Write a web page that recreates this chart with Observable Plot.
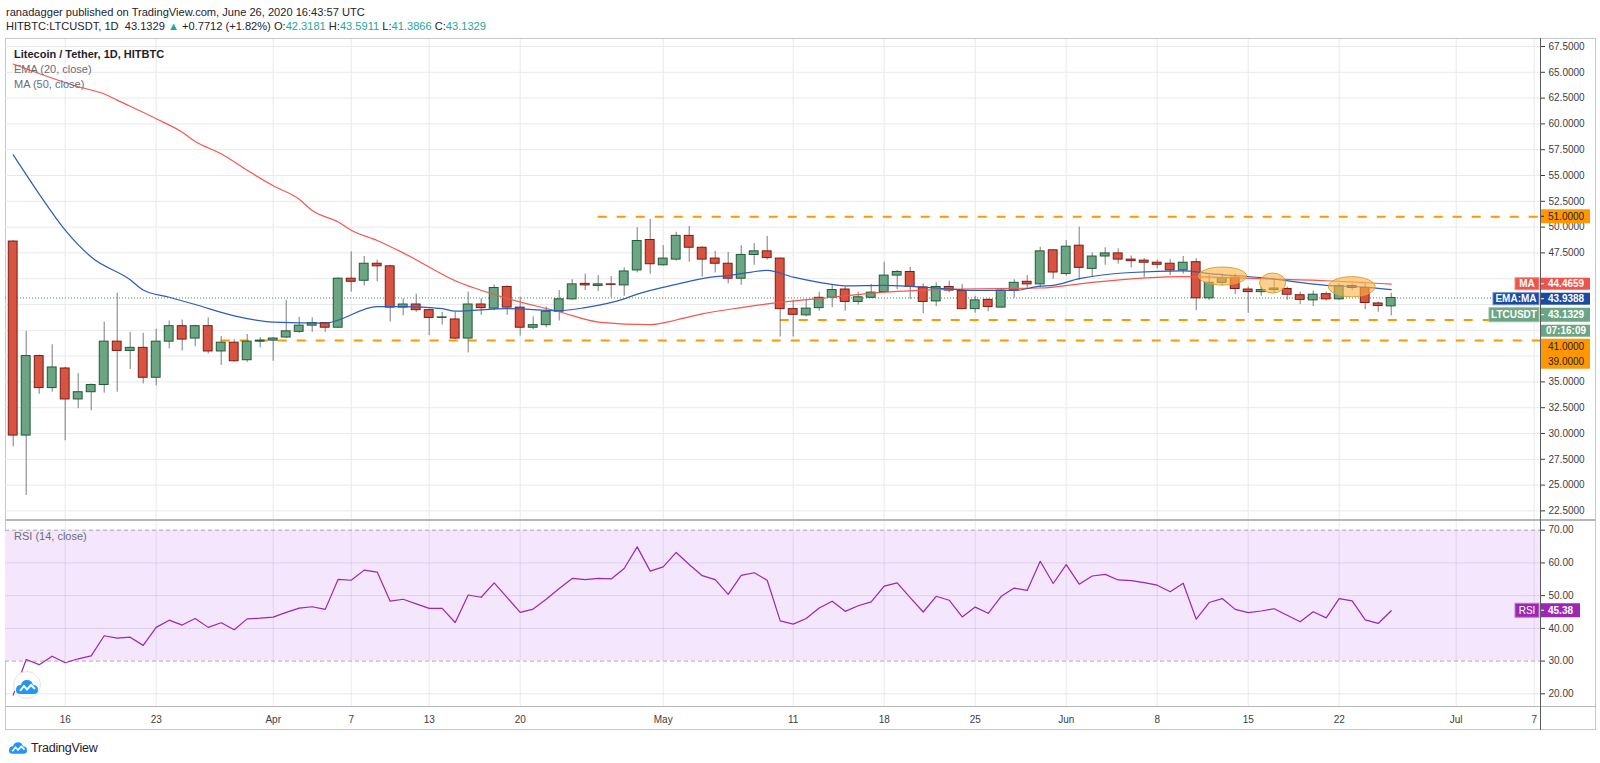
<!DOCTYPE html>
<html>
<head>
<meta charset="utf-8">
<script src="https://cdn.jsdelivr.net/npm/d3@7"></script>
<script src="https://cdn.jsdelivr.net/npm/@observablehq/plot@0.6"></script>
<style>
  html, body { margin: 0; padding: 0; background: #fff; }
  body { width: 1600px; height: 763px; overflow: hidden; font-family: "Liberation Sans", Arial, sans-serif; }
  #wrap { position: relative; width: 1600px; height: 763px; }
  .abs { position: absolute; }
  .hdr { position: absolute; left: 6px; font-size: 11.1px; color: #1e222d; white-space: nowrap; line-height: 14px; }
  .t { color: #26a69a; }
  .leg { position: absolute; left: 14px; font-size: 11px; line-height: 15px; white-space: nowrap; }
  svg.plotsvg { position: absolute; left: 0; }
</style>
</head>
<body>
<div id="wrap"></div>
<script>
// ---------------- DATA ----------------
const startDate = "2020-03-12";
const opens = [
  48.6, 29.8, 37.5, 34.4, 36.3, 33.3, 34.0, 34.7, 38.9, 38.0,
  38.3, 35.4, 38.9, 40.4, 39.2, 40.4, 37.95, 38.8, 37.1, 38.9,
  39.0, 39.3, 39.85, 40.45, 40.7, 40.25, 45.0, 44.8, 46.45, 46.2,
  42.2, 42.5, 41.95, 41.2, 41.05, 39.2, 42.5, 42.1, 44.2, 42.2,
  40.25, 40.5, 41.8, 43.0, 44.5, 44.3, 44.45, 44.35, 45.8, 48.75,
  46.3, 46.85, 49.15, 48.0, 46.95, 46.45, 45.0, 47.3, 47.65, 46.95,
  42.05, 41.45, 42.15, 43.15, 43.95, 42.75, 43.15, 43.7, 45.3, 45.65,
  44.15, 42.8, 44.2, 43.8, 42.05, 42.95, 42.2, 43.85, 44.7, 44.45,
  47.75, 45.45, 48.2, 45.95, 47.15, 47.45, 46.85, 46.75, 46.55, 46.45,
  45.8, 46.6, 43.1, 44.6, 45.1, 43.95, 43.7, 43.9, 44.0, 43.4,
  42.9, 43.5, 43.0, 44.3, 44.1, 42.6, 42.3181
];
const highs = [
  48.7, 39.9, 37.6, 38.6, 36.4, 35.8, 34.8, 40.8, 43.6, 39.8,
  39.7, 40.1, 40.9, 41.0, 40.5, 41.2, 39.4, 39.1, 39.6, 39.3,
  39.3, 42.9, 41.25, 41.2, 40.75, 45.1, 47.6, 47.15, 46.8, 46.3,
  43.05, 43.5, 42.05, 41.75, 41.75, 43.7, 43.05, 44.4, 44.3, 43.2,
  41.3, 42.25, 43.85, 44.9, 45.45, 45.3, 45.2, 46.05, 49.95, 50.75,
  48.2, 49.5, 50.05, 48.1, 47.65, 47.55, 48.2, 48.4, 49.1, 47.0,
  42.9, 42.9, 43.7, 44.4, 44.2, 43.7, 44.45, 46.6, 45.8, 46.1,
  44.5, 44.6, 44.75, 44.45, 43.3, 43.05, 43.95, 44.9, 45.3, 48.05,
  47.8, 48.7, 50.0, 47.5, 48.0, 47.9, 47.2, 46.95, 46.8, 46.85,
  47.15, 46.95, 45.3, 45.45, 45.45, 44.2, 44.2, 45.0, 44.2, 43.7,
  43.8, 43.7, 44.5, 44.5, 44.55, 42.75, 43.5911
];
const lows = [
  28.7, 24.0, 33.8, 34.0, 29.3, 32.4, 32.2, 33.9, 34.0, 36.2,
  34.8, 34.6, 38.2, 38.0, 38.4, 37.7, 36.6, 36.9, 36.9, 38.3,
  37.0, 39.2, 39.7, 39.8, 39.8, 40.2, 43.7, 44.3, 44.7, 40.8,
  41.4, 41.75, 39.5, 40.5, 39.1, 37.8, 41.45, 41.9, 41.45, 39.45,
  40.05, 40.25, 40.9, 42.9, 43.85, 43.75, 43.15, 43.3, 45.55, 45.45,
  46.2, 46.7, 46.6, 45.15, 45.55, 44.5, 44.35, 46.3, 46.8, 39.35,
  39.35, 41.3, 41.85, 42.2, 41.85, 42.45, 43.1, 43.6, 43.95, 43.0,
  41.6, 42.3, 43.65, 42.0, 41.65, 41.8, 42.15, 43.1, 44.0, 44.1,
  44.95, 45.25, 44.85, 45.2, 46.3, 46.4, 46.05, 45.1, 45.95, 45.3,
  45.45, 41.9, 42.9, 44.3, 43.45, 41.65, 43.3, 43.55, 42.9, 42.5,
  42.3, 42.85, 42.9, 43.85, 42.0, 41.75, 41.3866
];
const closes = [
  29.8, 37.5, 34.4, 36.4, 33.3, 34.0, 34.7, 38.9, 38.0, 38.3,
  35.4, 38.9, 40.4, 39.1, 40.4, 37.95, 38.8, 37.0, 38.9, 39.0,
  39.2, 39.9, 40.45, 40.7, 40.25, 45.0, 44.7, 46.45, 46.2, 42.2,
  42.5, 41.95, 41.2, 41.25, 39.2, 42.5, 42.15, 44.1, 42.2, 40.25,
  40.5, 41.8, 43.0, 44.45, 44.35, 44.45, 44.4, 45.7, 48.65, 46.4,
  46.95, 49.15, 48.0, 46.85, 46.45, 45.0, 47.3, 47.65, 47.0, 42.05,
  41.5, 42.1, 43.15, 43.9, 42.75, 43.2, 43.65, 45.3, 45.65, 44.2,
  42.75, 44.2, 43.85, 42.05, 42.9, 42.25, 43.85, 44.6, 44.45, 47.65,
  45.6, 48.1, 46.05, 47.15, 47.45, 46.85, 46.7, 46.55, 46.35, 45.8,
  46.55, 43.1, 44.6, 45.05, 44.0, 43.7, 43.9, 44.05, 43.45, 42.95,
  43.45, 43.0, 44.3, 44.1, 42.65, 42.36, 43.1329
];
const rsiValues = [
  19.6, 30.5, 28.9, 31.5, 29.5, 30.7, 31.6, 37.75, 37.0, 37.3,
  34.8, 40.3, 42.5, 41.0, 43.0, 40.3, 41.7, 39.6, 42.9, 43.1,
  43.45, 44.9, 46.2, 46.6, 45.8, 55.0, 54.7, 57.8, 57.2, 48.3,
  48.9, 47.5, 46.1, 46.1, 41.8, 50.2, 49.5, 53.9, 49.4, 44.9,
  45.9, 48.9, 52.2, 55.25, 54.9, 55.25, 55.1, 58.3, 64.9, 57.5,
  58.8, 63.2, 59.5, 56.1, 54.9, 50.4, 56.2, 57.0, 54.7, 42.3,
  41.3, 43.0, 46.2, 48.3, 45.2, 46.9, 48.1, 52.9, 53.9, 49.4,
  45.0, 49.8, 48.6, 43.5, 46.5, 44.6, 49.8, 52.3, 51.6, 60.5,
  53.7, 59.5, 53.5, 56.0, 56.5, 54.8, 54.6, 54.0, 53.2, 51.2,
  53.8, 42.8, 47.9, 49.1, 45.8, 44.8, 45.3, 46.0, 44.0, 42.0,
  45.1, 43.2, 49.1, 48.4, 42.6, 41.5, 45.38
];
const maDates = ["2020-03-12","2020-03-17","2020-03-19","2020-03-20","2020-03-23","2020-03-25","2020-03-26","2020-03-28","2020-03-30","2020-04-01","2020-04-03","2020-04-04","2020-04-06","2020-04-07","2020-04-09","2020-04-11","2020-04-15","2020-04-19","2020-04-23","2020-04-26","2020-04-30","2020-05-02","2020-05-04","2020-05-07","2020-05-10","2020-05-14","2020-05-18","2020-05-24","2020-05-30","2020-06-03","2020-06-10","2020-06-16","2020-06-21","2020-06-26"];
const maValues = [65.8,63.6,62.9,62.3,60.5,59.2,58.3,57.1,55.5,54.0,52.7,51.6,50.5,49.7,48.7,47.5,44.8,43.1,41.8,40.8,40.55,41.0,41.6,42.2,42.7,43.2,43.7,44.0,44.1,44.65,45.2,45.0,44.8,44.4659];
const emaDates = ["2020-03-12","2020-03-14","2020-03-16","2020-03-18","2020-03-21","2020-03-22","2020-03-24","2020-03-26","2020-03-29","2020-04-01","2020-04-05","2020-04-09","2020-04-11","2020-04-14","2020-04-15","2020-04-19","2020-04-23","2020-04-25","2020-04-28","2020-04-29","2020-05-02","2020-05-05","2020-05-06","2020-05-09","2020-05-11","2020-05-13","2020-05-15","2020-05-18","2020-05-22","2020-05-25","2020-05-28","2020-05-30","2020-05-31","2020-06-02","2020-06-06","2020-06-10","2020-06-12","2020-06-16","2020-06-21","2020-06-24","2020-06-26"];
const emaValues = [57.0,53.2,49.7,47.1,44.9,43.9,43.2,42.5,41.4,40.8,40.7,42.3,42.3,42.1,41.85,42.1,41.9,42.2,43.05,43.5,44.45,45.2,45.3,45.8,45.15,44.65,44.3,44.35,44.1,43.86,43.86,44.28,44.35,45.0,45.6,45.75,45.5,45.1,44.35,44.18,43.9388];
// horizontal support / resistance levels
const levelPrices = [51, 41, 39];
const levelStarts = ["2020-04-26", "2020-05-10", "2020-03-28"];
// highlighted ellipses (date span, price span)
const ellipseFrom = ["2020-06-11T05:00Z", "2020-06-15T22:00Z", "2020-06-21T05:00Z"];
const ellipseTo   = ["2020-06-14T22:00Z", "2020-06-17T22:00Z", "2020-06-24T19:00Z"];
const ellipseLo   = [44.34, 43.57, 43.2];
const ellipseHi   = [46.08, 45.5, 45.15];
// axis ticks
const priceTicks = [22.5,25,27.5,30,32.5,35,37.5,40,42.5,45,47.5,50,52.5,55,57.5,60,62.5,65,67.5];
const priceLabelTicks = [22.5,25,27.5,30,32.5,35,47.5,50,52.5,55,57.5,60,62.5,65,67.5];
const rsiTicks = [20,30,40,50,60,70];
const timeTickDates = ["2020-03-16","2020-03-23","2020-04-01","2020-04-07","2020-04-13","2020-04-20","2020-05-01","2020-05-11","2020-05-18","2020-05-25","2020-06-01","2020-06-08","2020-06-15","2020-06-22","2020-07-01","2020-07-07"];
const timeTickLabels = ["16","23","Apr","7","13","20","May","11","18","25","Jun","8","15","22","Jul","7"];
const countdown = "07:16:09";
const prevClose = 42.3617;

// ---------------- BUILD ----------------
const FONT = '"Liberation Sans", Arial, sans-serif';
const dayMs = 86400000;
const t0 = Date.parse(startDate + "T00:00:00Z");
const dates = opens.map((_, i) => new Date(t0 + i * dayMs));
const candles = dates.map((date, i) => ({date, open: opens[i], high: highs[i], low: lows[i], close: closes[i]}));
const rsiData = dates.map((date, i) => ({date, rsi: rsiValues[i]}));
const maData = maDates.map((d, i) => ({date: new Date(d + "T00:00:00Z"), v: maValues[i]}));
const emaData = emaDates.map((d, i) => ({date: new Date(d + "T00:00:00Z"), v: emaValues[i]}));
const levels = levelPrices.map((p, i) => ({price: p, from: new Date(levelStarts[i] + "T00:00:00Z")}));
const ellipses = ellipseFrom.map((f, i) => ({from: new Date(f), to: new Date(ellipseTo[i]), lo: ellipseLo[i], hi: ellipseHi[i]}));
const tickDates = timeTickDates.map(d => new Date(d + "T00:00:00Z"));
const tickLabelMap = new Map(tickDates.map((d, i) => [+d, timeTickLabels[i]]));

// layout
const X_LEFT = 5, X_AXIS = 1540, FIRST_X = 12.7, PX_DAY = 13;
const xDomain = [new Date(t0 - (FIRST_X - X_LEFT) / PX_DAY * dayMs), new Date(t0 + (X_AXIS - FIRST_X) / PX_DAY * dayMs)];
const P_TOP = 39, P_BOT = 520, Y675 = 46, PX_UNIT = 10.32;
const yDomain = [67.5 - (P_BOT - Y675) / PX_UNIT, 67.5 + (Y675 - P_TOP) / PX_UNIT];
const R_TOP = 520, R_BOT = 706, Y70 = 529.7, PX_RSI = 3.272;
const rDomain = [70 - (R_BOT - Y70) / PX_RSI, 70 + (Y70 - R_TOP) / PX_RSI];

const UP_FILL = "#6ba583", UP_STROKE = "#1f5a36", DN_FILL = "#d75442", DN_STROKE = "#7d1b12", WICK = "#7c7c7c";
const GRID = "#e9e9ec";
const last = candles.length - 1;

const wrap = document.getElementById("wrap");

// header
const h1 = document.createElement("div");
h1.className = "hdr"; h1.style.top = "5px";
h1.textContent = "ranadagger published on TradingView.com, June 26, 2020 16:43:57 UTC";
wrap.appendChild(h1);
const chg = closes[last] - prevClose;
const h2 = document.createElement("div");
h2.className = "hdr"; h2.style.top = "19px";
h2.innerHTML = `HITBTC:LTCUSDT, 1D&nbsp; ${closes[last].toFixed(4)} <span class="t">▲</span> +${chg.toFixed(4)} (+${(chg / prevClose * 100).toFixed(2)}%) O:<span class="t">${opens[last].toFixed(4)}</span> H:<span class="t">${highs[last].toFixed(4)}</span> L:<span class="t">${lows[last].toFixed(4)}</span> C:<span class="t">${closes[last].toFixed(4)}</span>`;
wrap.appendChild(h2);

function div(style) {
  const d = document.createElement("div");
  d.className = "abs";
  Object.assign(d.style, style);
  wrap.appendChild(d);
  return d;
}
// frame
div({left: "5px", top: "38px", width: "1591px", height: "692px", border: "1px solid #c5c7cc", boxSizing: "border-box"});

// price pane
const pricePlot = Plot.plot({
  width: 1600, height: P_BOT - P_TOP,
  marginLeft: X_LEFT, marginRight: 1600 - X_AXIS, marginTop: 0, marginBottom: 0,
  style: {background: "transparent", fontFamily: FONT, fontSize: "10px", color: "#3d3d3d", overflow: "visible"},
  x: {type: "utc", domain: xDomain, axis: null},
  y: {domain: yDomain, axis: "right", ticks: priceLabelTicks, tickFormat: d => d.toFixed(4), tickSize: 4, tickPadding: 4, label: null},
  marks: [
    Plot.ruleY(priceTicks, {stroke: GRID, strokeWidth: 1}),
    Plot.ruleX(tickDates, {stroke: GRID, strokeWidth: 1}),
    Plot.ruleY(levels, {y: "price", x1: "from", x2: () => xDomain[1], stroke: "#ff9800", strokeWidth: 2, strokeDasharray: "9,10"}),
    Plot.ruleY([closes[last]], {stroke: "#3f8f62", strokeWidth: 1, strokeDasharray: "1,2"}),
    Plot.ruleX(candles, {x: "date", y1: "low", y2: "high", stroke: WICK, strokeWidth: 1}),
    Plot.rect(candles, {
      x1: d => new Date(+d.date - 0.34 * dayMs), x2: d => new Date(+d.date + 0.34 * dayMs),
      y1: "open", y2: "close",
      fill: d => d.close >= d.open ? UP_FILL : DN_FILL,
      stroke: d => d.close >= d.open ? UP_STROKE : DN_STROKE, strokeWidth: 1
    }),
    Plot.line(maData, {x: "date", y: "v", stroke: "#f4574f", strokeWidth: 1.2, curve: "monotone-x"}),
    Plot.line(emaData, {x: "date", y: "v", stroke: "#2c5db8", strokeWidth: 1.2, curve: "monotone-x"}),
    Plot.rect(ellipses, {x1: "from", x2: "to", y1: "lo", y2: "hi", fill: "#ffb240", fillOpacity: 0.6, stroke: "#d9a13a", strokeWidth: 1, rx: 200, ry: 200})
  ]
});
pricePlot.classList.add("plotsvg");
pricePlot.style.top = P_TOP + "px";
wrap.appendChild(pricePlot);

// RSI pane
const rsiPlot = Plot.plot({
  width: 1600, height: 730 - R_TOP,
  marginLeft: X_LEFT, marginRight: 1600 - X_AXIS, marginTop: 0, marginBottom: 730 - R_BOT,
  style: {background: "transparent", fontFamily: FONT, fontSize: "10px", color: "#3d3d3d", overflow: "visible"},
  x: {type: "utc", domain: xDomain, ticks: tickDates, tickFormat: d => tickLabelMap.get(+d) || "", tickSize: 0, tickPadding: 9, label: null},
  y: {domain: rDomain, axis: "right", ticks: rsiTicks, tickFormat: d => d.toFixed(2), tickSize: 4, tickPadding: 4, label: null},
  marks: [
    Plot.rect([{lo: 30, hi: 70}], {x1: () => xDomain[0], x2: () => xDomain[1], y1: "lo", y2: "hi", fill: "#f3e6fd"}),
    Plot.ruleY([20, 40, 50, 60], {stroke: "rgba(120,100,140,0.16)", strokeWidth: 1}),
    Plot.ruleX(tickDates, {stroke: "rgba(120,100,140,0.14)", strokeWidth: 1}),
    Plot.ruleY([30, 70], {stroke: "#a9a9ad", strokeWidth: 1, strokeDasharray: "4,3"}),
    Plot.line(rsiData, {x: "date", y: "rsi", stroke: "#9c27b0", strokeWidth: 1.2})
  ]
});
rsiPlot.classList.add("plotsvg");
rsiPlot.style.top = R_TOP + "px";
wrap.appendChild(rsiPlot);

// separators and axis line
div({left: "5px", top: "519px", width: "1591px", height: "2px", background: "#b5b7bb"});
div({left: "5px", top: "706px", width: "1591px", height: "1px", background: "#b5b7bb"});
div({left: "1540px", top: "38px", width: "1px", height: "692px", background: "#5a5a5a"});

// price-axis label boxes, placed through the y scales
function addBox(svg, x, top, w, h, fill, text, opts = {}) {
  const g = d3.select(svg).append("g");
  g.append("rect").attr("x", x).attr("y", top).attr("width", w).attr("height", h)
    .attr("fill", fill).attr("stroke", opts.stroke || "none").attr("stroke-width", opts.stroke ? 1 : 0);
  const lines = Array.isArray(text) ? text : [text];
  lines.forEach((t, i) => {
    g.append("text").attr("x", opts.center ? x + w / 2 : x + (opts.pad ?? 8))
      .attr("y", top + (opts.lineGap ? 8 + i * opts.lineGap : h / 2))
      .attr("dy", "0.35em").attr("text-anchor", opts.center ? "middle" : "start")
      .attr("font-family", FONT).attr("font-size", opts.size || 10)
      .attr("font-weight", opts.bold ? "bold" : "normal")
      .attr("fill", opts.color || "#fff").text(t);
  });
  if (opts.tick) {
    g.append("line").attr("x1", X_AXIS).attr("x2", X_AXIS + 4)
      .attr("y1", top + h / 2).attr("y2", top + h / 2).attr("stroke", opts.tickColor || "#fff");
  }
  return g;
}
const yS = pricePlot.scale("y");
// 51 level
addBox(pricePlot, X_AXIS, yS.apply(levelPrices[0]) - 7, 50, 14, "#ff9800", levelPrices[0].toFixed(4), {color: "#1e222d", tick: true, tickColor: "#1e222d"});
const top0 = yS.apply(maValues[maValues.length - 1]) - 6;
// MA
addBox(pricePlot, 1515, top0, 24, 12, "#f0524c", "MA", {center: true, bold: true, stroke: "#f58a85"});
addBox(pricePlot, X_AXIS, top0, 50, 12, "#f0524c", maValues[maValues.length - 1].toFixed(4), {bold: true, tick: true});
// EMA:MA
addBox(pricePlot, 1493, top0 + 15, 46, 12, "#1a4aa2", "EMA:MA", {center: true, bold: true, stroke: "#6f8fd0"});
addBox(pricePlot, X_AXIS, top0 + 15, 50, 12, "#1a4aa2", emaValues[emaValues.length - 1].toFixed(4), {bold: true, tick: true});
// LTCUSDT
addBox(pricePlot, 1489, top0 + 30, 50, 14, UP_FILL, "LTCUSDT", {center: true, bold: true, stroke: "#8fc0a3"});
addBox(pricePlot, X_AXIS, top0 + 30, 50, 14, UP_FILL, closes[last].toFixed(4), {bold: true, tick: true});
// countdown
addBox(pricePlot, X_AXIS + 1, top0 + 47, 49, 12, UP_FILL, countdown, {bold: true, pad: 5});
// 41 / 39 stacked
addBox(pricePlot, X_AXIS, top0 + 61, 50, 30, "#ff9800", [levelPrices[1].toFixed(4), levelPrices[2].toFixed(4)], {color: "#1e222d", lineGap: 15});

// RSI label
const rS = rsiPlot.scale("y");
const rTop = rS.apply(rsiValues[last]) - 7;
addBox(rsiPlot, 1515, rTop, 24, 14, "#9c27b0", "RSI", {center: true, stroke: "#c27ad0"});
addBox(rsiPlot, X_AXIS, rTop, 40, 14, "#9c27b0", rsiValues[last].toFixed(2), {bold: true, tick: true});

// legends
const leg = div({left: "14px", top: "47px"});
leg.className = "leg";
leg.innerHTML = `<div style="color:#1e222d;font-weight:bold;">Litecoin / Tether, 1D, HITBTC</div><div style="color:#6a6d78;">EMA (20, close)</div><div style="color:#6a6d78;">MA (50, close)</div>`;
const rleg = div({left: "14px", top: "529px"});
rleg.className = "leg";
rleg.innerHTML = `<div style="color:#6a6d78;">RSI (14, close)</div>`;

// watermark circle in RSI pane
const logoPath = '<path d="M2 14 Q2 9 7 9 Q8 4 13 4 Q18 4 19 9 Q24 9 24 14 Q24 18 20 18 H6 Q2 18 2 14 Z" fill="#2196f3"/><polyline points="6,15 10,10 13,13.5 17,9 21,13" fill="none" stroke="#fff" stroke-width="2"/>';
const wm = div({left: "13px", top: "671px", width: "28px", height: "28px", borderRadius: "50%", background: "#fff", border: "1px solid #e0e3eb", boxSizing: "border-box"});
wm.innerHTML = `<svg width="26" height="26" viewBox="0 0 26 22" style="position:absolute;left:0px;top:2px">${logoPath}</svg>`;

// footer
const foot = div({left: "6px", top: "738px", height: "18px", whiteSpace: "nowrap"});
foot.innerHTML = `<svg width="24" height="18" viewBox="0 0 26 22" style="vertical-align:middle">${logoPath}</svg><span style="font-size:12.5px;color:#1e222d;vertical-align:middle;margin-left:1px;letter-spacing:-0.2px;">TradingView</span>`;
</script>
</body>
</html>
